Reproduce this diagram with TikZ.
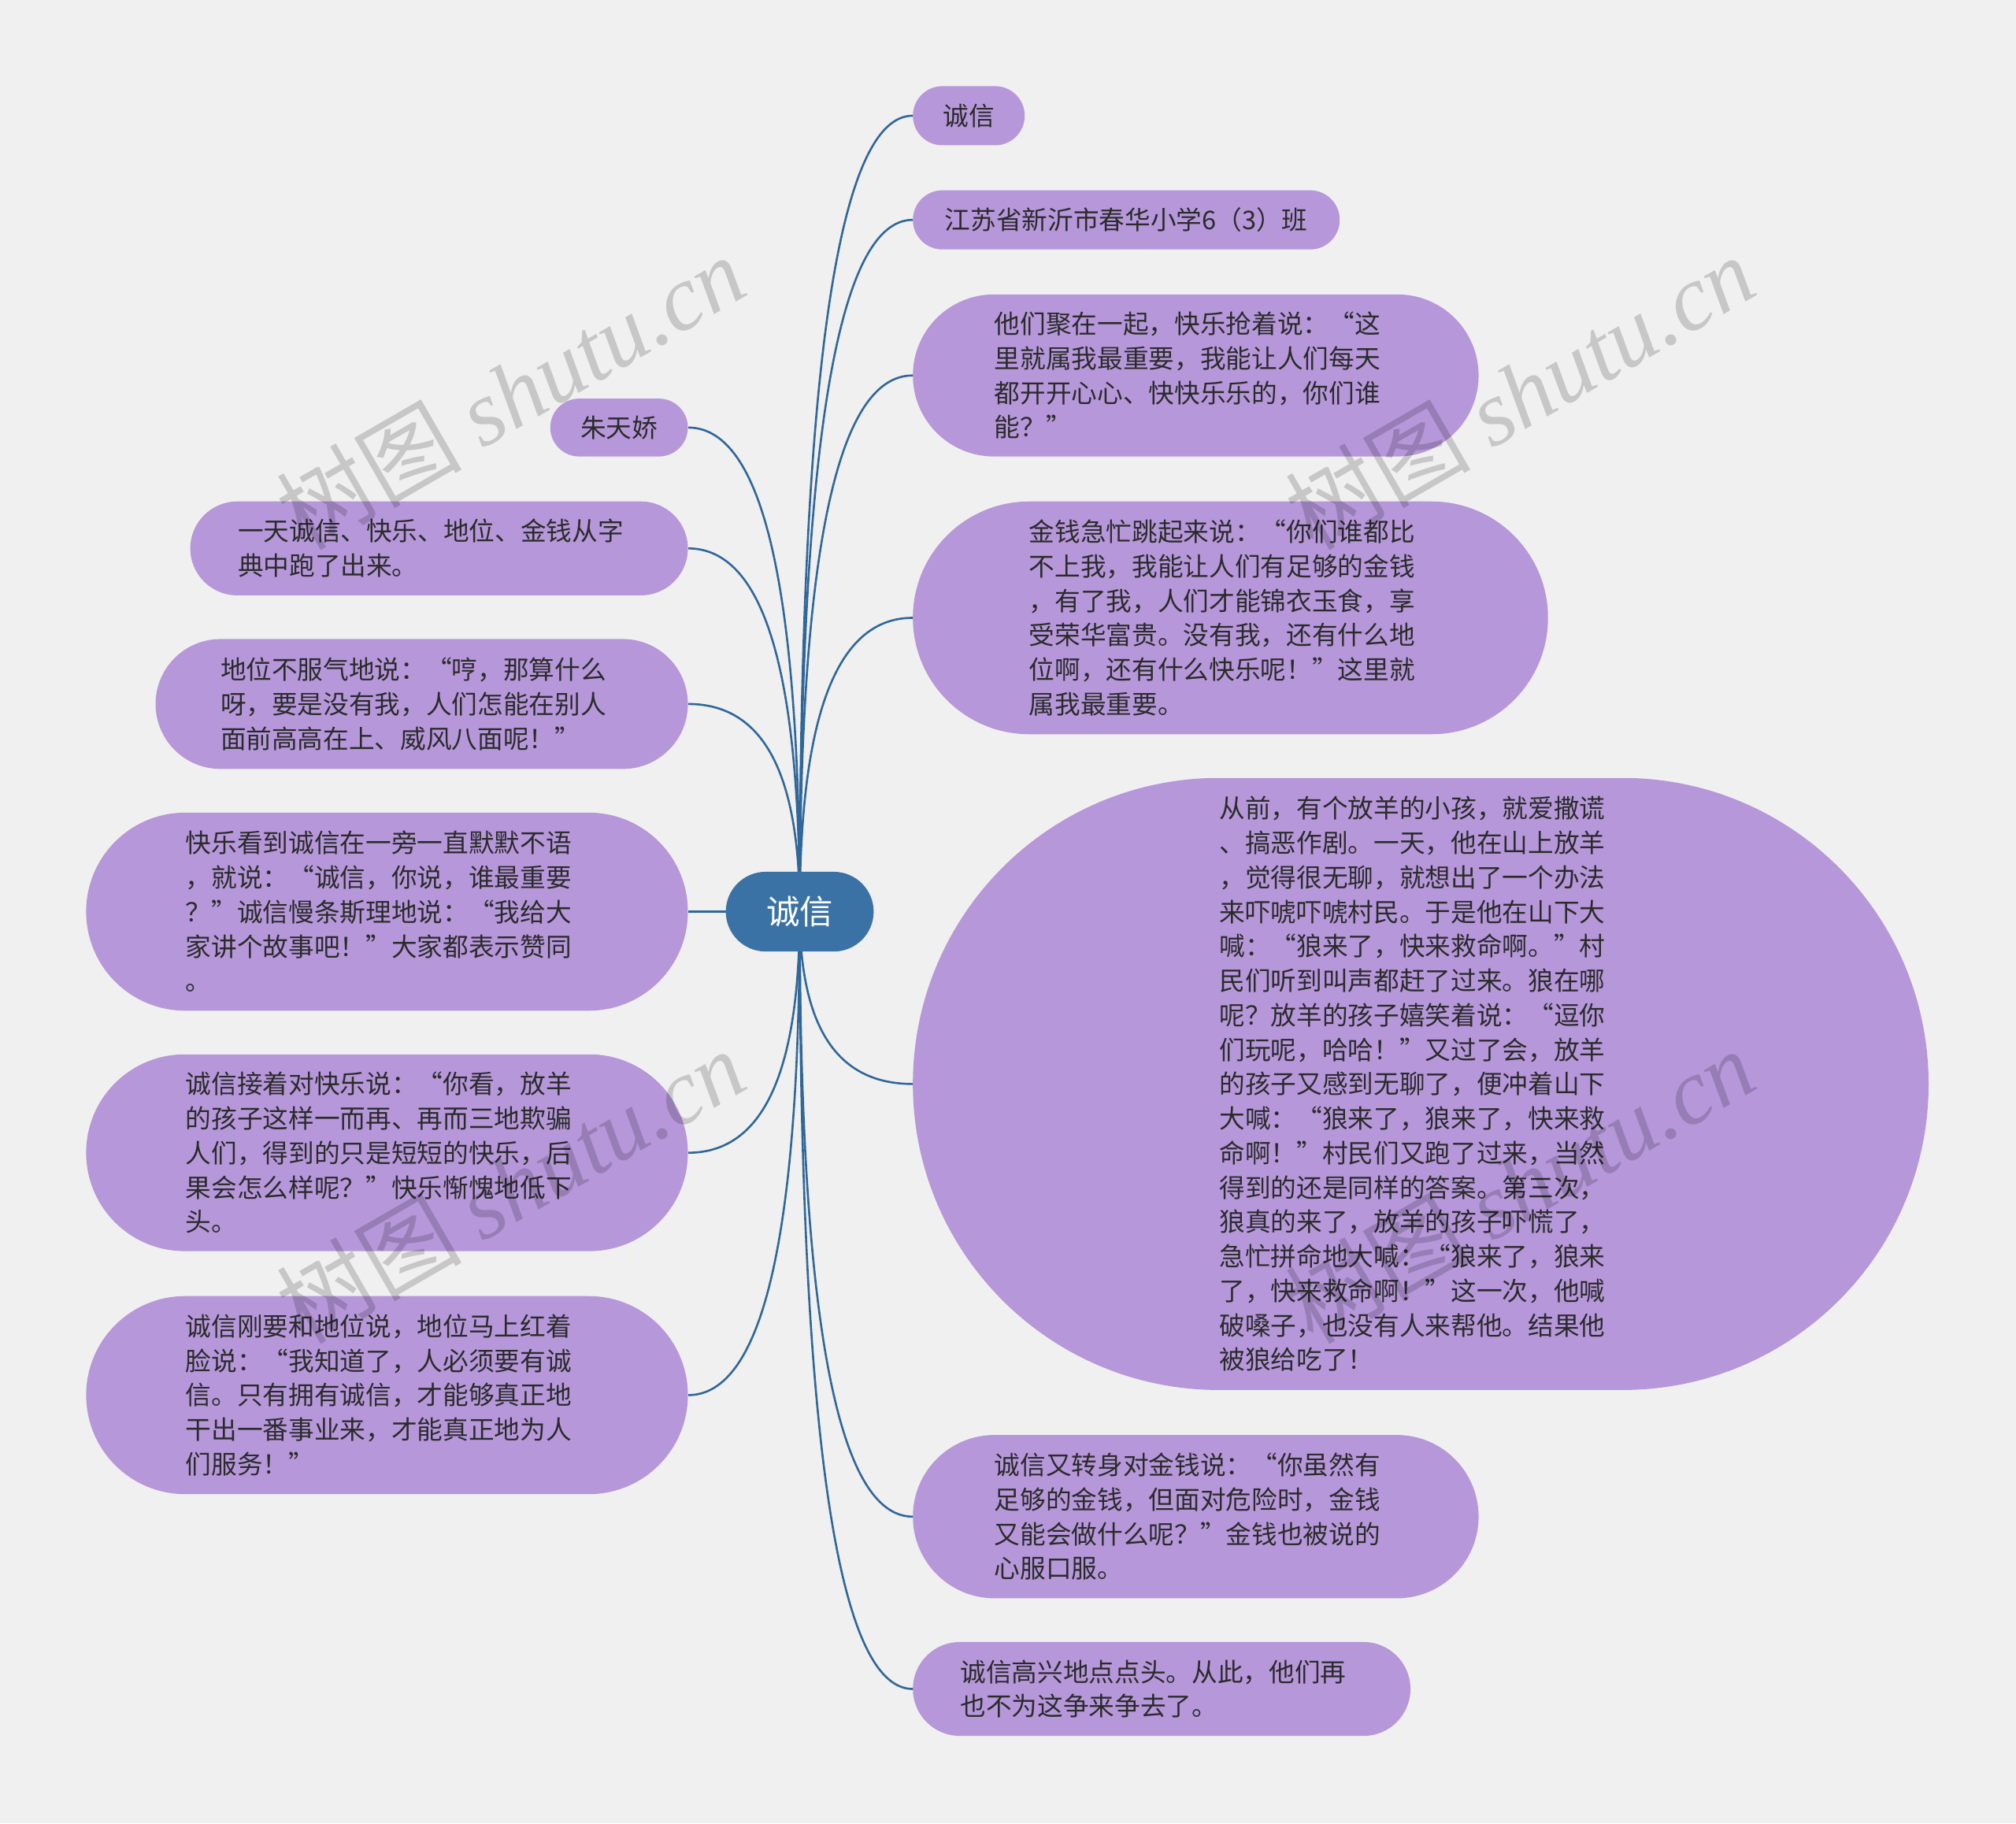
\documentclass[tikz,border=0pt]{standalone}
\usepackage{fontspec}
\setmainfont{Noto Sans CJK SC}
\newfontfamily\markfont{Liberation Serif}
\usetikzlibrary{shapes.misc,calc,backgrounds}
\definecolor{pagebg}{HTML}{F0F0F0}
\definecolor{rootblue}{HTML}{3B72A5}
\definecolor{linkblue}{HTML}{30679A}
\definecolor{leaflilac}{HTML}{B697DA}
\definecolor{leaftext}{HTML}{2B2B2B}
\tikzset{
  rootnode/.style={rounded rectangle,fill=rootblue,text=white,inner sep=0pt,
    minimum width=115pt,minimum height=62pt,font=\fontsize{26}{30}\selectfont},
  leaf/.style={rounded rectangle,fill=leaflilac,text=leaftext,inner sep=0pt,
    align=left,font=\fontsize{20}{26.8}\selectfont},
  para/.style={leaf,text width=313pt},
  link/.style={draw=linkblue,line width=1.6pt},
  wmark/.style={rotate=30,text=black,text opacity=0.17,
    font=\fontsize{72}{72}\selectfont},
}

\begin{document}
\begin{tikzpicture}[x=1pt,y=-1pt]
\useasboundingbox (0,0) rectangle (1568,1418);

\node[rootnode] (root) at (622,709) {诚信};

\node[leaf,minimum width=87pt,minimum height=46pt] (r1) at (753.5,90) {诚信};
\node[leaf,minimum width=332pt,minimum height=46pt] (r2) at (876,171) {江苏省新沂市春华小学6（3）班};
\node[para,minimum width=440pt,minimum height=126pt] (r3) at (930,292) {他们聚在一起，快乐抢着说：“这\\里就属我最重要，我能让人们每天\\都开开心心、快快乐乐的，你们谁\\能？”};
\node[para,minimum width=494pt,minimum height=181pt] (r4) at (957,480.5) {金钱急忙跳起来说：“你们谁都比\\不上我，我能让人们有足够的金钱\\，有了我，人们才能锦衣玉食，享\\受荣华富贵。没有我，还有什么地\\位啊，还有什么快乐呢！”这里就\\属我最重要。};
\node[para,minimum width=790pt,minimum height=476pt] (r5) at (1105,843) {从前，有个放羊的小孩，就爱撒谎\\、搞恶作剧。一天，他在山上放羊\\，觉得很无聊，就想出了一个办法\\来吓唬吓唬村民。于是他在山下大\\喊：“狼来了，快来救命啊。”村\\民们听到叫声都赶了过来。狼在哪\\呢？放羊的孩子嬉笑着说：“逗你\\们玩呢，哈哈！”又过了会，放羊\\的孩子又感到无聊了，便冲着山下\\大喊：“狼来了，狼来了，快来救\\命啊！”村民们又跑了过来，当然\\得到的还是同样的答案。第三次，\\狼真的来了，放羊的孩子吓慌了，\\急忙拼命地大喊：“狼来了，狼来\\了，快来救命啊！”这一次，他喊\\破嗓子，也没有人来帮他。结果他\\被狼给吃了！};
\node[para,minimum width=440pt,minimum height=127pt] (r6) at (930,1179.5) {诚信又转身对金钱说：“你虽然有\\足够的金钱，但面对危险时，金钱\\又能会做什么呢？”金钱也被说的\\心服口服。};
\node[para,minimum width=387pt,minimum height=73pt] (r7) at (903.5,1313.5) {诚信高兴地点点头。从此，他们再\\也不为这争来争去了。};

\node[leaf,minimum width=107pt,minimum height=45pt] (l1) at (481.5,332.5) {朱天娇};
\node[para,minimum width=387pt,minimum height=73pt] (l2) at (341.5,426.5) {一天诚信、快乐、地位、金钱从字\\典中跑了出来。};
\node[para,minimum width=414pt,minimum height=101pt] (l3) at (328,547.5) {地位不服气地说：“哼，那算什么\\呀，要是没有我，人们怎能在别人\\面前高高在上、威风八面呢！”};
\node[para,minimum width=468pt,minimum height=154pt] (l4) at (301,709) {快乐看到诚信在一旁一直默默不语\\，就说：“诚信，你说，谁最重要\\？”诚信慢条斯理地说：“我给大\\家讲个故事吧！”大家都表示赞同\\。};
\node[para,minimum width=468pt,minimum height=153pt] (l5) at (301,896.5) {诚信接着对快乐说：“你看，放羊\\的孩子这样一而再、再而三地欺骗\\人们，得到的只是短短的快乐，后\\果会怎么样呢？”快乐惭愧地低下\\头。};
\node[para,minimum width=468pt,minimum height=154pt] (l6) at (301,1085) {诚信刚要和地位说，地位马上红着\\脸说：“我知道了，人必须要有诚\\信。只有拥有诚信，才能够真正地\\干出一番事业来，才能真正地为人\\们服务！”};

\begin{scope}[on background layer]
\fill[pagebg] (0,0) rectangle (1568,1418);
\foreach \n in {r1,r2,r3,r4,r5,r6,r7}
  \draw[link] (root.center) .. controls ($(root.center)!0.67!(root.center |- \n.west)$) and ($(\n.west)!0.67!(root.center |- \n.west)$) .. (\n.west);
\foreach \n in {l1,l2,l3,l4,l5,l6}
  \draw[link] (root.center) .. controls ($(root.center)!0.67!(root.center |- \n.east)$) and ($(\n.east)!0.67!(root.center |- \n.east)$) .. (\n.east);
\end{scope}

\node[wmark] (w1) at (397,305) {树图 {\markfont\itshape shutu.cn}};
\node[wmark] (w2) at (1182,305) {树图 {\markfont\itshape shutu.cn}};
\node[wmark] (w3) at (397,922) {树图 {\markfont\itshape shutu.cn}};
\node[wmark] (w4) at (1182,922) {树图 {\markfont\itshape shutu.cn}};

\end{tikzpicture}
\end{document}
